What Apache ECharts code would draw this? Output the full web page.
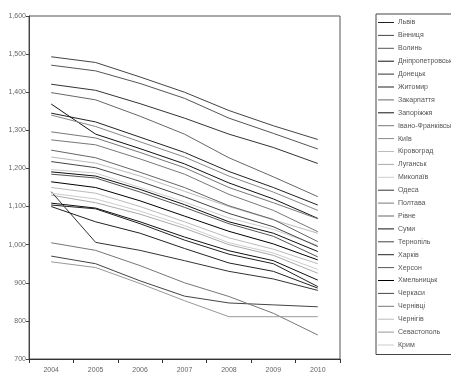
<!DOCTYPE html>
<html>
<head>
<meta charset="utf-8">
<script src="https://cdn.jsdelivr.net/npm/echarts@6/dist/echarts.min.js"></script>
<style>
  html, body { margin: 0; padding: 0; background: #fff; }
  #chart { width: 451px; height: 379px; }
</style>
</head>
<body>
<div id="chart"></div>
<script>
// Years on the horizontal axis
const years = ['2004', '2005', '2006', '2007', '2008', '2009', '2010'];

// Regions, in legend order
const regions = [
  'Львів', 'Вінниця', 'Волинь', 'Дніпропетровськ', 'Донецьк', 'Житомир',
  'Закарпаття', 'Запоріжжя', 'Івано-Франківськ', 'Київ', 'Кіровоград',
  'Луганськ', 'Миколаїв', 'Одеса', 'Полтава', 'Рівне', 'Суми', 'Тернопіль',
  'Харків', 'Херсон', 'Хмельницьк', 'Черкаси', 'Чернівці', 'Чернігів',
  'Севастополь', 'Крим'
];

// Grey shade of each region's line
const lineColors = [
  '#222', '#444', '#555', '#111', '#333', '#222',
  '#666', '#111', '#777', '#888', '#bbb',
  '#aaa', '#ccc', '#333', '#777', '#666', '#111', '#444',
  '#222', '#555', '#000', '#444', '#777', '#bbb',
  '#999', '#ccc'
];

// Values per region, 2004..2010
const valLviv        = [1345, 1322, 1282, 1242, 1192, 1150, 1104];
const valVinnytsia   = [1493, 1478, 1440, 1400, 1352, 1312, 1276];
const valVolyn       = [1471, 1456, 1423, 1384, 1332, 1292, 1251];
const valDnipro      = [1369, 1290, 1252, 1212, 1162, 1120, 1069];
const valDonetsk     = [1421, 1405, 1370, 1332, 1290, 1255, 1213];
const valZhytomyr    = [1104, 1094, 1055, 1012, 975, 950, 890];
const valZakarpattia = [1399, 1380, 1337, 1290, 1228, 1178, 1126];
const valZaporizhzhia= [1109, 1096, 1060, 1020, 984, 958, 907];
const valIvanoFr     = [1296, 1280, 1242, 1202, 1150, 1110, 1068];
const valKyiv        = [1340, 1310, 1270, 1230, 1180, 1138, 1090];
const valKirovohrad  = [1230, 1214, 1180, 1140, 1100, 1065, 1030];
const valLuhansk     = [1130, 1110, 1080, 1043, 1000, 972, 925];
const valMykolaiv    = [1197, 1188, 1150, 1112, 1070, 1040, 998];
const valOdesa       = [1139, 1006, 985, 958, 930, 910, 880];
const valPoltava     = [1275, 1262, 1225, 1185, 1132, 1090, 1034];
const valRivne       = [1248, 1228, 1190, 1150, 1102, 1066, 1008];
const valSumy        = [1191, 1180, 1145, 1105, 1060, 1030, 982];
const valTernopil    = [1218, 1202, 1166, 1126, 1082, 1047, 995];
const valKharkiv     = [1100, 1060, 1030, 990, 952, 930, 886];
const valKherson     = [1185, 1175, 1138, 1098, 1055, 1022, 968];
const valKhmelnytsk  = [1165, 1150, 1115, 1075, 1035, 1002, 960];
const valCherkasy    = [970, 950, 905, 865, 847, 842, 837];
const valChernivtsi  = [1005, 985, 945, 900, 864, 820, 763];
const valChernihiv   = [1150, 1135, 1100, 1060, 1018, 988, 950];
const valSevastopol  = [955, 940, 898, 853, 811, 811, 811];
const valKrym        = [1135, 1120, 1088, 1050, 1005, 978, 935];

const seriesValues = [
  valLviv, valVinnytsia, valVolyn, valDnipro, valDonetsk, valZhytomyr,
  valZakarpattia, valZaporizhzhia, valIvanoFr, valKyiv, valKirovohrad,
  valLuhansk, valMykolaiv, valOdesa, valPoltava, valRivne, valSumy, valTernopil,
  valKharkiv, valKherson, valKhmelnytsk, valCherkasy, valChernivtsi, valChernihiv,
  valSevastopol, valKrym
];

// Y axis range and step
const yMin = 700, yMax = 1600, yStep = 100;

const font = "'Liberation Sans Narrow', 'Liberation Sans', Arial, sans-serif";

const chart = echarts.init(document.getElementById('chart'), null, { renderer: 'canvas' });

chart.setOption({
  animation: false,
  backgroundColor: '#fff',
  grid: {
    left: 29, right: 111, top: 16, bottom: 20,
    show: true, borderColor: '#555', borderWidth: 1
  },
  legend: {
    orient: 'vertical',
    left: 376, top: 14,
    padding: [4, 40, 5, 2],
    borderColor: '#444', borderWidth: 1,
    icon: 'rect',
    itemWidth: 16, itemHeight: 1,
    itemGap: 3.9,
    textStyle: { fontFamily: font, fontSize: 7, color: '#555', lineHeight: 9, padding: [0, 0, 0, -1] },
    data: regions
  },
  xAxis: {
    type: 'category',
    data: years,
    boundaryGap: true,
    axisLine: { lineStyle: { color: '#333', width: 1 } },
    axisTick: { show: true, length: 4, lineStyle: { color: '#333' } },
    axisLabel: { fontFamily: font, fontSize: 7, color: '#666', margin: 8 },
    splitLine: { show: false }
  },
  yAxis: {
    type: 'value',
    min: yMin, max: yMax, interval: yStep,
    axisLine: { show: true, lineStyle: { color: '#444', width: 1 } },
    axisTick: { show: true, length: 3, lineStyle: { color: '#444' } },
    axisLabel: {
      fontFamily: font, fontSize: 7, color: '#666', margin: 3,
      formatter: v => v.toLocaleString('en-US')
    },
    splitLine: { show: false }
  },
  series: regions.map((name, i) => ({
    name,
    type: 'line',
    data: seriesValues[i],
    symbol: 'none',
    showSymbol: false,
    lineStyle: { color: lineColors[i], width: 1 },
    itemStyle: { color: lineColors[i] },
    emphasis: { disabled: true }
  }))
});
</script>
</body>
</html>
